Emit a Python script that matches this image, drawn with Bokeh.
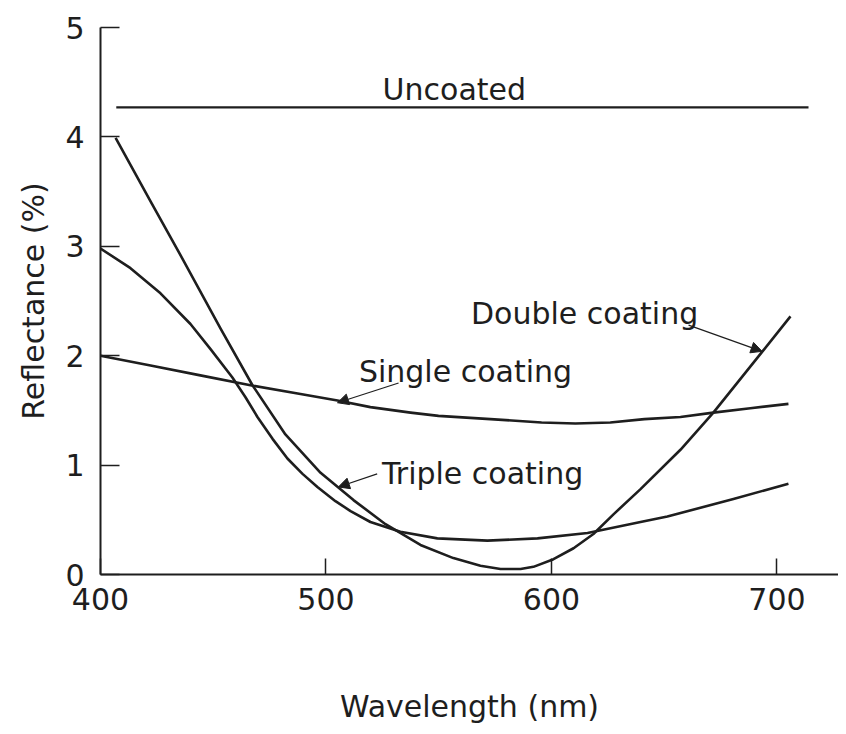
from bokeh.plotting import figure
from bokeh.models import Range1d, FixedTicker, Arrow, NormalHead, Label
from bokeh.embed import file_html
from bokeh.resources import INLINE

# ---- data ----
x_ticks = [400, 500, 600, 700]
y_ticks = [0, 1, 2, 3, 4, 5]

uncoated_wl = [407, 714]
uncoated_r = [4.27, 4.27]

single_wl = [400.0, 422.2, 444.3, 466.5, 488.7, 505.1, 519.7, 537.5, 549.9, 572.9, 595.6,
             610.6, 626.1, 641.2, 657.2, 671.8, 688.2, 705.1]
single_r = [2.00, 1.91, 1.82, 1.73, 1.65, 1.59, 1.53, 1.48, 1.45, 1.42, 1.39,
            1.38, 1.39, 1.42, 1.44, 1.48, 1.52, 1.56]

double_wl = [406.7, 422.2, 436.8, 453.2, 467.4, 482.0, 497.6, 512.2, 526.4, 541.9, 556.5, 568.5,
             577.4, 586.3, 592.0, 600.9, 609.8, 618.6, 627.5, 639.5, 657.2, 671.8, 693.6, 706.0]
double_r = [3.99, 3.41, 2.87, 2.25, 1.73, 1.28, 0.93, 0.68, 0.46, 0.27, 0.15, 0.08,
            0.05, 0.05, 0.07, 0.14, 0.24, 0.37, 0.55, 0.78, 1.14, 1.48, 2.04, 2.36]

triple_wl = [400.0, 413.3, 426.6, 439.9, 448.8, 458.5, 464.3, 469.6, 476.3, 482.9, 489.6, 496.2,
             504.2, 510.9, 519.7, 533.0, 549.4, 571.6, 593.8, 616.0, 639.5, 651.4, 680.7, 705.1]
triple_r = [2.98, 2.80, 2.57, 2.29, 2.06, 1.80, 1.62, 1.44, 1.24, 1.06, 0.92, 0.80,
            0.67, 0.58, 0.48, 0.39, 0.33, 0.31, 0.33, 0.38, 0.48, 0.53, 0.69, 0.83]

label_texts = ["Uncoated", "Double coating", "Single coating", "Triple coating"]
label_x = [525.1, 564.3, 514.6, 524.8]
label_y = [4.43, 2.39, 1.86, 0.92]

# arrows: (x_start, y_start, x_end, y_end)
arrows = [
    (660.8, 2.28, 693.4, 2.04),   # Double coating
    (532.2, 1.75, 505.1, 1.57),   # Single coating
    (522.7, 0.92, 505.5, 0.80),   # Triple coating
]

FONT = "DejaVu Sans"
FS = "30px"
INK = "#1e1e1e"

p = figure(width=838, height=726, output_backend="svg", toolbar_location=None,
           x_range=Range1d(400, 727.3), y_range=Range1d(0, 5),
           min_border_left=100, min_border_right=0, min_border_top=27, min_border_bottom=148)
p.outline_line_color = None
p.xgrid.visible = False
p.ygrid.visible = False
p.background_fill_color = "white"
p.border_fill_color = "white"

for ax in (p.xaxis[0], p.yaxis[0]):
    ax.axis_line_width = 2
    ax.axis_line_color = INK
    ax.major_tick_line_color = INK
    ax.major_tick_line_width = 1.5
    ax.major_tick_out = 0
    ax.minor_tick_line_color = None
    ax.major_label_text_font = FONT
    ax.major_label_text_font_size = FS
    ax.major_label_text_color = INK
    ax.axis_label_text_font = FONT
    ax.axis_label_text_font_size = FS
    ax.axis_label_text_font_style = "normal"
    ax.axis_label_text_color = INK

p.xaxis.ticker = FixedTicker(ticks=x_ticks)
p.yaxis.ticker = FixedTicker(ticks=y_ticks)
p.xaxis.major_tick_in = 16
p.yaxis.major_tick_in = 19
p.xaxis.major_label_standoff = 13
p.yaxis.major_label_standoff = 16
p.xaxis.axis_label = "Wavelength (nm)"
p.yaxis.axis_label = "Reflectance (%)"
p.xaxis.axis_label_standoff = 76
p.yaxis.axis_label_standoff = 11

lw = 2.6
p.line(uncoated_wl, uncoated_r, line_color=INK, line_width=2.2)
p.line(single_wl, single_r, line_color=INK, line_width=lw, line_join="round")
p.line(double_wl, double_r, line_color=INK, line_width=lw, line_join="round")
p.line(triple_wl, triple_r, line_color=INK, line_width=lw, line_join="round")

for xs, ys, xe, ye in arrows:
    p.add_layout(Arrow(end=NormalHead(size=11, fill_color=INK, line_color=INK, line_width=1),
                       x_start=xs, y_start=ys, x_end=xe, y_end=ye,
                       line_color=INK, line_width=1.2))

for t, x, y in zip(label_texts, label_x, label_y):
    p.add_layout(Label(x=x, y=y, text=t, text_font=FONT, text_font_size=FS,
                       text_color=INK, text_baseline="alphabetic", text_align="left"))

open("out.html", "w").write(file_html(p, INLINE))
